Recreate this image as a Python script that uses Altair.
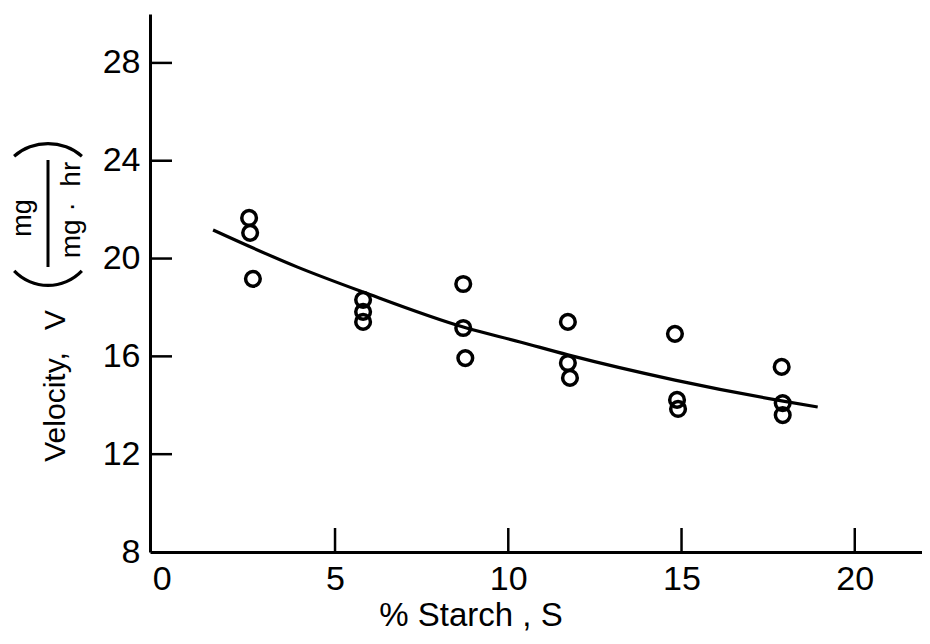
import altair as alt
import pandas as pd
import math

# Observed data points (% starch, velocity)
pt_x = [2.52, 2.55, 2.63, 5.81, 5.81, 5.81, 8.70, 8.70, 8.76,
        11.72, 11.72, 11.78, 14.81, 14.87, 14.90, 17.89, 17.92, 17.92]
pt_y = [21.66, 21.05, 19.17, 18.31, 17.82, 17.41, 18.96, 17.16, 15.93,
        17.41, 15.73, 15.12, 16.92, 14.22, 13.85, 15.57, 14.09, 13.60]

# Fitted curve
cv_x = [1.48, 3.90, 5.81, 8.70, 10.34, 11.72, 14.81, 17.89, 18.93]
cv_y = [21.17, 19.66, 18.63, 17.20, 16.59, 16.06, 15.03, 14.18, 13.93]

x_ticks = [5, 10, 15, 20]
x_labels = [0, 5, 10, 15, 20]
y_ticks = [12, 16, 20, 24, 28]
y_labels = [8, 12, 16, 20, 24, 28]

W, H = 772, 538
LBL_FONT = "'Liberation Sans Narrow', 'Liberation Sans', sans-serif"
TXT_FONT = "'Liberation Sans', sans-serif"

xs = alt.Scale(domain=[-0.34, 21.94], nice=False, zero=False)
ys = alt.Scale(domain=[8, 30], nice=False, zero=False)

x_axis = alt.Axis(values=x_labels, ticks=False, grid=False, domainColor="black",
                  domainWidth=3, labelFont=LBL_FONT, labelFontSize=34,
                  labelColor="black", labelPadding=10, title=None, labelFlush=False)
y_axis = alt.Axis(values=y_labels, ticks=False, grid=False, domainColor="black",
                  domainWidth=3, labelFont=LBL_FONT, labelFontSize=34,
                  labelColor="black", labelPadding=10, title=None, labelFlush=False)

pts = alt.Chart(pd.DataFrame({"x": pt_x, "y": pt_y})).mark_point(
    shape="circle", filled=False, stroke="black", strokeWidth=3.5, size=215, opacity=1
).encode(x=alt.X("x:Q", scale=xs, axis=x_axis), y=alt.Y("y:Q", scale=ys, axis=y_axis))

curve = alt.Chart(pd.DataFrame({"x": cv_x, "y": cv_y})).mark_line(
    color="black", strokeWidth=3.2, interpolate="monotone"
).encode(x="x:Q", y="y:Q")

xt = alt.Chart(pd.DataFrame({"x": x_ticks})).mark_rule(color="black", strokeWidth=2.5).encode(
    x="x:Q", y=alt.value(H), y2=alt.value(H - 24))
yt = alt.Chart(pd.DataFrame({"y": y_ticks})).mark_rule(color="black", strokeWidth=2.5).encode(
    y="y:Q", x=alt.value(0), x2=alt.value(22))

one = pd.DataFrame({"a": [0]})

def txt(s, x, y, size, angle=270, align="center", font=TXT_FONT):
    return alt.Chart(one).mark_text(text=s, font=font, fontSize=size, angle=angle,
                                    align=align, baseline="alphabetic", color="black").encode(
        x=alt.value(x), y=alt.value(y))

def paren(cx, cy, r, t0, t1):
    return alt.Chart(one).mark_arc(color="black").encode(
        x=alt.value(cx), y=alt.value(cy), radius=alt.value(r), radius2=alt.value(r - 3.2),
        theta=alt.value(t0), theta2=alt.value(t1))

t_vel = txt("Velocity,", -85, 393, 30)
t_v = txt("V", -85, 306, 30)
p_top = paren(-102, 181.6, 53.6, 2 * math.pi - 0.71, 2 * math.pi + 0.71)
p_bot = paren(-102, 224.7, 48.3, math.pi - 0.81, math.pi + 0.81)
t_num = txt("mg", -119, 204, 27)
t_den = txt("mg\u00a0·\u00a0\u00a0hr", -70, 196, 28)
frac = alt.Chart(one).mark_rule(color="black", strokeWidth=3).encode(
    x=alt.value(-102), y=alt.value(146), y2=alt.value(253))
t_x = txt("% Starch , S", 321, 612, 33, angle=0)

chart = alt.layer(pts, curve, xt, yt, t_vel, t_v, p_top, p_bot, t_num, t_den, frac, t_x).properties(
    width=W, height=H,
    autosize=alt.AutoSizeParams(type="none"),
    padding={"left": 142, "top": 6, "right": 0, "bottom": 84},
    background="white",
).configure_view(stroke=None)

chart.save("out.html", embed_options={"renderer": "svg", "actions": False})
